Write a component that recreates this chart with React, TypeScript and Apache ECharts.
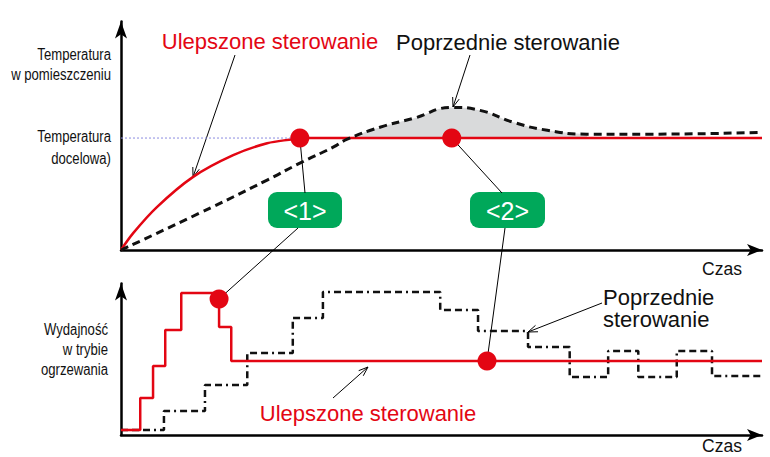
import React, { useEffect, useRef } from "react";
import * as echarts from "echarts";

// ---- Data (time 0..100, values in % of axis height) ----
const targetTemp = 49;

const improvedTemp: [number, number][] = [
  [0, 0], [1.9, 7.4], [5.6, 18.8], [11.2, 31.9], [17.5, 41.5],
  [22.8, 46.7], [26.8, 48.5], [27.9, 49], [40, 49], [70, 49], [100, 49],
];

const previousTemp: [number, number][] = [
  [0, 0], [12.3, 16.2], [22.8, 30.6], [27.9, 38.0], [33.1, 45.0],
  [35.3, 48.5], [40.4, 53.7], [45.6, 57.6], [51.8, 62.4], [56.0, 61.1],
  [61.2, 55.9], [66.5, 52.4], [72.7, 50.7], [82.1, 50.7], [100, 51.5],
];

const targetLine: [number, number][] = [[0, targetTemp], [27.9, targetTemp]];
const topMarkers: [number, number][] = [[27.9, targetTemp], [51.6, targetTemp]];

const improvedPower: [number, number][] = [
  [0, 3.3], [3.0, 24.4], [5.0, 45.5], [6.9, 69.3], [9.4, 93.7],
  [15.3, 71.3], [17.2, 48.8], [100, 48.8],
];

const previousPower: [number, number][] = [
  [0, 3.3], [6.7, 15.8], [13.1, 33.0], [19.7, 54.1], [26.8, 77.2],
  [31.5, 94.4], [49.8, 82.5], [55.7, 68.6], [63.5, 58.1], [70.0, 38.3],
  [76.0, 55.4], [80.7, 38.3], [86.7, 55.4], [92.2, 38.9], [100, 38.9],
];

const bottomMarkers: [number, number][] = [[15.3, 89.8], [57.1, 48.8]];

const boxLabels = ["<1>", "<2>"];
const texts = {
  improved: "Ulepszone sterowanie",
  previous: "Poprzednie sterowanie",
  previous2: "Poprzednie\nsterowanie",
  roomTemp: "Temperatura\nw pomieszczeniu",
  targetTemp: "Temperatura\ndocelowa)",
  power: "Wydajność\nw trybie\nogrzewania",
  time: "Czas",
};

const RED = "#e30613";
const GREEN = "#00a85a";
const SANS = "'Liberation Sans', Arial, Helvetica, sans-serif";

function arrow(x1: number, y1: number, x2: number, y2: number) {
  const ang = Math.atan2(y2 - y1, x2 - x1);
  const L = 10, a = 0.35;
  const p1 = [x2 - L * Math.cos(ang - a), y2 - L * Math.sin(ang - a)];
  const p2 = [x2 - L * Math.cos(ang + a), y2 - L * Math.sin(ang + a)];
  return [
    { type: "line", shape: { x1, y1, x2, y2 }, style: { stroke: "#000", lineWidth: 1 } },
    { type: "polyline", shape: { points: [p1, [x2, y2], p2] }, style: { stroke: "#000", lineWidth: 1, fill: null } },
  ];
}

function axisPair(gridIndex: number, yMax: number) {
  const line = {
    show: true,
    onZero: true,
    symbol: ["none", "arrow"],
    lineStyle: { color: "#000", width: 2.5 },
  };
  return {
    x: {
      type: "value", gridIndex, min: 0, max: 100,
      axisLine: { ...line, symbolSize: [9, 15] },
      axisTick: { show: false }, axisLabel: { show: false }, splitLine: { show: false },
    },
    y: {
      type: "value", gridIndex, min: 0, max: yMax,
      axisLine: { ...line, symbolSize: [9, 17] },
      axisTick: { show: false }, axisLabel: { show: false }, splitLine: { show: false },
    },
  };
}

export default function App() {
  const ref = useRef<HTMLDivElement>(null);

  useEffect(() => {
    if (!ref.current) return;
    const chart = echarts.init(ref.current, null, { renderer: "svg" });
    const top = axisPair(0, 100);
    const bot = axisPair(1, 100);
    const overshoot = previousTemp.filter((p) => p[0] >= 35 && p[0] <= 73);

    chart.setOption({
      animation: false,
      grid: [
        { left: 121, right: 8, top: 21.5, height: 228.5 },
        { left: 121, right: 8, top: 283.5, height: 151.5 },
      ],
      xAxis: [top.x, bot.x],
      yAxis: [top.y, bot.y],
      series: [
        {
          type: "line", xAxisIndex: 0, yAxisIndex: 0, data: overshoot, smooth: true,
          symbol: "none", lineStyle: { opacity: 0 },
          areaStyle: { color: "#d9dadb", opacity: 1, origin: targetTemp },
        },
        {
          type: "line", xAxisIndex: 0, yAxisIndex: 0, data: improvedTemp, smooth: 0.35,
          symbol: "none", lineStyle: { color: RED, width: 2.5 },
        },
        {
          type: "line", xAxisIndex: 0, yAxisIndex: 0, data: previousTemp, smooth: true,
          symbol: "none", lineStyle: { color: "#111", width: 3, type: [8, 5] },
        },
        {
          type: "line", xAxisIndex: 0, yAxisIndex: 0, data: targetLine,
          symbol: "none", lineStyle: { color: "#8c8ce0", width: 1, type: [2, 2] },
        },
        {
          type: "scatter", xAxisIndex: 0, yAxisIndex: 0, data: topMarkers,
          symbolSize: 19, itemStyle: { color: RED, opacity: 1 }, z: 5,
        },
        {
          type: "line", xAxisIndex: 1, yAxisIndex: 1, data: previousPower, step: "end",
          symbol: "none", lineStyle: { color: "#111", width: 2.5, type: [7, 4, 7, 4, 7, 4, 2, 4] },
        },
        {
          type: "line", xAxisIndex: 1, yAxisIndex: 1, data: improvedPower, step: "end",
          symbol: "none", lineStyle: { color: RED, width: 2.5 },
        },
        {
          type: "scatter", xAxisIndex: 1, yAxisIndex: 1, data: bottomMarkers,
          symbolSize: 19, itemStyle: { color: RED, opacity: 1 }, z: 5,
        },
      ],
    });

    const t1 = chart.convertToPixel({ gridIndex: 0 }, topMarkers[0]) as number[];
    const t2 = chart.convertToPixel({ gridIndex: 0 }, topMarkers[1]) as number[];
    const b1 = chart.convertToPixel({ gridIndex: 1 }, bottomMarkers[0]) as number[];
    const b2 = chart.convertToPixel({ gridIndex: 1 }, bottomMarkers[1]) as number[];

    const boxes = [
      { x: 268, y: 192, w: 74, h: 36 },
      { x: 470, y: 192, w: 75, h: 36 },
    ];
    const conn = (x1: number, y1: number, x2: number, y2: number) => ({
      type: "line", shape: { x1, y1, x2, y2 }, style: { stroke: "#000", lineWidth: 1 }, z: 1,
    });
    const txt = (text: string, x: number, y: number, opts: any, extra: any = {}) => ({
      type: "text", x, y, z: 10, ...extra,
      style: { text, fill: "#111", verticalAlign: "middle", ...opts },
    });
    const narrow = { scaleX: 0.82 };

    chart.setOption({
      graphic: [
        conn(t1[0], t1[1], 305, 193),
        conn(298, 228, b1[0], b1[1]),
        conn(t2[0], t2[1], 502, 193),
        conn(505, 228, b2[0], b2[1]),
        ...boxes.map((b, i) => ({
          type: "group", z: 20,
          children: [
            { type: "rect", shape: { x: b.x, y: b.y, width: b.w, height: b.h, r: 9 }, style: { fill: GREEN } },
            {
              type: "text", x: b.x + b.w / 2, y: b.y + b.h / 2 + 1,
              style: { text: boxLabels[i], fill: "#fff", font: `25px ${SANS}`, align: "center", verticalAlign: "middle" },
            },
          ],
        })),
        ...arrow(235, 55, 193, 177),
        ...arrow(470, 55, 453, 107),
        ...arrow(602, 303, 528, 332),
        ...arrow(333, 398, 368, 367),
        txt(texts.improved, 270, 41, { fill: RED, font: `22px ${SANS}`, align: "center" }),
        txt(texts.previous, 508, 42, { font: `22px ${SANS}`, align: "center" }),
        txt(texts.improved, 368, 413, { fill: RED, font: `22px ${SANS}`, align: "center" }),
        txt(texts.previous2, 603, 308, { font: `22px ${SANS}`, align: "left", lineHeight: 22 }),
        txt(texts.roomTemp, 111, 65, { font: `16px ${SANS}`, align: "right", lineHeight: 20 }, narrow),
        txt(texts.targetTemp, 111, 148, { font: `16px ${SANS}`, align: "right", lineHeight: 22 }, narrow),
        txt(texts.power, 108, 350, { font: `16px ${SANS}`, align: "right", lineHeight: 20 }, narrow),
        txt(texts.time, 722, 269, { font: `17.5px ${SANS}`, align: "center" }),
        txt(texts.time, 722, 446, { font: `17.5px ${SANS}`, align: "center" }),
      ],
    });

    return () => chart.dispose();
  }, []);

  return (
    <div
      ref={ref}
      style={{ position: "fixed", left: 0, top: 0, width: 770, height: 457, background: "#fff" }}
    />
  );
}
